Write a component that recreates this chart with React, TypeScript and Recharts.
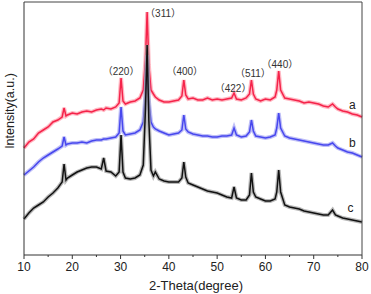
import { LineChart, Line, XAxis, YAxis, ReferenceDot } from 'recharts';

// 2-theta sampling (degrees), denser around the reflections
const theta = [
  10, 11, 12, 13, 14, 15, 16, 17, 17.9, 18.3,
  18.7, 19, 20, 21, 22, 23, 24, 25, 26, 26.5,
  27, 28, 29, 29.7, 30.1, 30.5, 31, 32, 33, 34,
  34.7, 35.15, 35.5, 35.85, 36.3, 36.8, 37.2, 38, 39, 40,
  41, 42, 42.7, 43.1, 43.5, 44, 45, 46, 47, 48,
  49, 50, 51, 52, 53, 53.5, 54, 55, 56, 56.7,
  57.1, 57.5, 58, 59, 60, 61, 62, 62.35, 62.75, 63.15,
  64, 65, 66, 67, 68, 69, 70, 71, 72, 73,
  73.9, 74.5, 75, 76, 77, 78, 79, 80,
];

const seriesA = [
  107, 113, 116, 122, 125, 128, 133, 135, 138, 147,
  139, 140, 142, 141, 143, 144, 143, 145, 146, 145,
  147, 146, 148, 152, 177, 154, 151, 153, 154, 157,
  165, 195, 243, 190, 165, 161, 158, 155, 153, 153,
  154, 155, 159, 175, 160, 156, 157, 155, 155, 157,
  155, 156, 155, 156, 157, 162, 156, 155, 157, 161,
  175, 161, 156, 154, 156, 155, 158, 165, 184, 165,
  157, 156, 155, 154, 152, 153, 152, 151, 149, 148,
  151, 148, 146, 144, 143, 141, 140, 138,
];

const seriesB = [
  80, 84, 88, 93, 97, 100, 103, 106, 109, 118,
  110, 111, 112, 112, 113, 112, 114, 115, 115, 116,
  116, 117, 118, 122, 148, 124, 120, 121, 122, 125,
  133, 160, 200, 155, 133, 128, 126, 124, 122, 120,
  121, 122, 125, 140, 126, 123, 121, 120, 119, 119,
  118, 118, 119, 119, 120, 127, 120, 118, 119, 123,
  135, 124, 119, 118, 117, 118, 120, 127, 142, 127,
  119, 117, 116, 115, 114, 113, 112, 111, 110, 110,
  112, 109, 107, 105, 103, 102, 100, 98,
];

const seriesC = [
  36, 42, 47, 50, 53, 58, 62, 67, 73, 91,
  75, 77, 80, 83, 85, 87, 88, 88, 86, 97,
  84, 83, 79, 83, 120, 83, 77, 76, 77, 80,
  90, 145, 210, 135, 85, 79, 83, 76, 74, 73,
  73, 73, 77, 93, 78, 72, 70, 68, 66, 64,
  63, 62, 60, 58, 57, 68, 57, 55, 55, 60,
  82, 63, 58, 56, 54, 54, 56, 63, 85, 63,
  50, 48, 47, 46, 44, 43, 42, 41, 40, 40,
  45, 40, 39, 37, 36, 35, 34, 33,
];

const xTicks = [10, 15, 20, 25, 30, 35, 40, 45, 50, 55, 60, 65, 70, 75, 80];

// reflection labels: text, 2-theta, intensity
const hklLabels = ['（220）', '（311）', '（400）', '（422）', '（511）', '（440）'];
const hklTheta = [30.1, 38.8, 43.3, 53.3, 57.4, 63.0];
const hklLevel = [184, 242, 184, 167, 182, 191];

const curveNames = ['a', 'b', 'c'];
const curveNameTheta = [78.0, 78.0, 77.6];
const curveNameLevel = [150, 112, 47];

const data = theta.map((t, i) => ({ t, a: seriesA[i], b: seriesB[i], c: seriesC[i] }));

const font = "'Liberation Sans', Arial, 'Noto Sans CJK SC', sans-serif";

const XTick = ({ x, y, payload }: any) => {
  const major = payload.value % 10 === 0;
  return (
    <g>
      <line x1={x} x2={x} y1={y} y2={y + (major ? 4 : 2)} stroke="#333" strokeWidth={1} />
      {major && (
        <text x={x} y={y + 16} textAnchor="middle" fontSize={12} fill="#222" fontFamily={font}>
          {payload.value}
        </text>
      )}
    </g>
  );
};

const XTitle = () => (
  <text x={196} y={290} textAnchor="middle" fontSize={13} fill="#222" fontFamily={font}>
    2-Theta(degree)
  </text>
);

const YTitle = () => (
  <text
    x={10}
    y={111}
    transform="rotate(-90 10 111)"
    textAnchor="middle"
    dominantBaseline="central"
    fontSize={12.5}
    fill="#222"
    fontFamily={font}
  >
    Intensity(a.u.)
  </text>
);

const textShape = (txt: string, size: number, color: string) => (p: any) => (
  <text x={p.cx} y={p.cy} textAnchor="middle" dominantBaseline="central" fontSize={size} fill={color} fontFamily={font}>
    {txt}
  </text>
);

export default function App() {
  return (
    <div style={{ position: 'absolute', left: 0, top: 0, width: 371, height: 294, background: '#fff' }}>
      <LineChart width={371} height={294} data={data} margin={{ top: 1, right: 8, bottom: 0, left: 23 }}>
        <XAxis
          dataKey="t"
          type="number"
          domain={[10, 80]}
          ticks={xTicks}
          interval={0}
          height={39}
          tickSize={0}
          tickMargin={0}
          tickLine={false}
          tick={<XTick />}
          axisLine={{ stroke: '#333' }}
          label={<XTitle />}
        />
        <XAxis xAxisId="top" orientation="top" dataKey="t" type="number" domain={[10, 80]} height={1} tick={false} tickLine={false} axisLine={{ stroke: '#444' }} />
        <YAxis type="number" domain={[0, 253]} width={1} tick={false} tickLine={false} axisLine={{ stroke: '#333' }} label={<YTitle />} />
        <YAxis yAxisId="right" orientation="right" type="number" domain={[0, 253]} width={1} tick={false} tickLine={false} axisLine={{ stroke: '#444' }} />

        <Line dataKey="a" stroke="#ff9aa9" strokeWidth={4} strokeOpacity={0.7} dot={false} isAnimationActive={false} />
        <Line dataKey="a" stroke="#f5234a" strokeWidth={1.5} dot={false} isAnimationActive={false} />
        <Line dataKey="b" stroke="#a4a4f4" strokeWidth={4} strokeOpacity={0.7} dot={false} isAnimationActive={false} />
        <Line dataKey="b" stroke="#4747ee" strokeWidth={1.5} dot={false} isAnimationActive={false} />
        <Line dataKey="c" stroke="#9a9a9a" strokeWidth={4} strokeOpacity={0.7} dot={false} isAnimationActive={false} />
        <Line dataKey="c" stroke="#111" strokeWidth={1.5} dot={false} isAnimationActive={false} />

        {hklLabels.map((h, i) => (
          <ReferenceDot key={h} x={hklTheta[i]} y={hklLevel[i]} r={1} fill="none" stroke="none" shape={textShape(h, 10, '#333')} />
        ))}
        {curveNames.map((n, i) => (
          <ReferenceDot key={n} x={curveNameTheta[i]} y={curveNameLevel[i]} r={1} fill="none" stroke="none" shape={textShape(n, 12, '#222')} />
        ))}
      </LineChart>
    </div>
  );
}
